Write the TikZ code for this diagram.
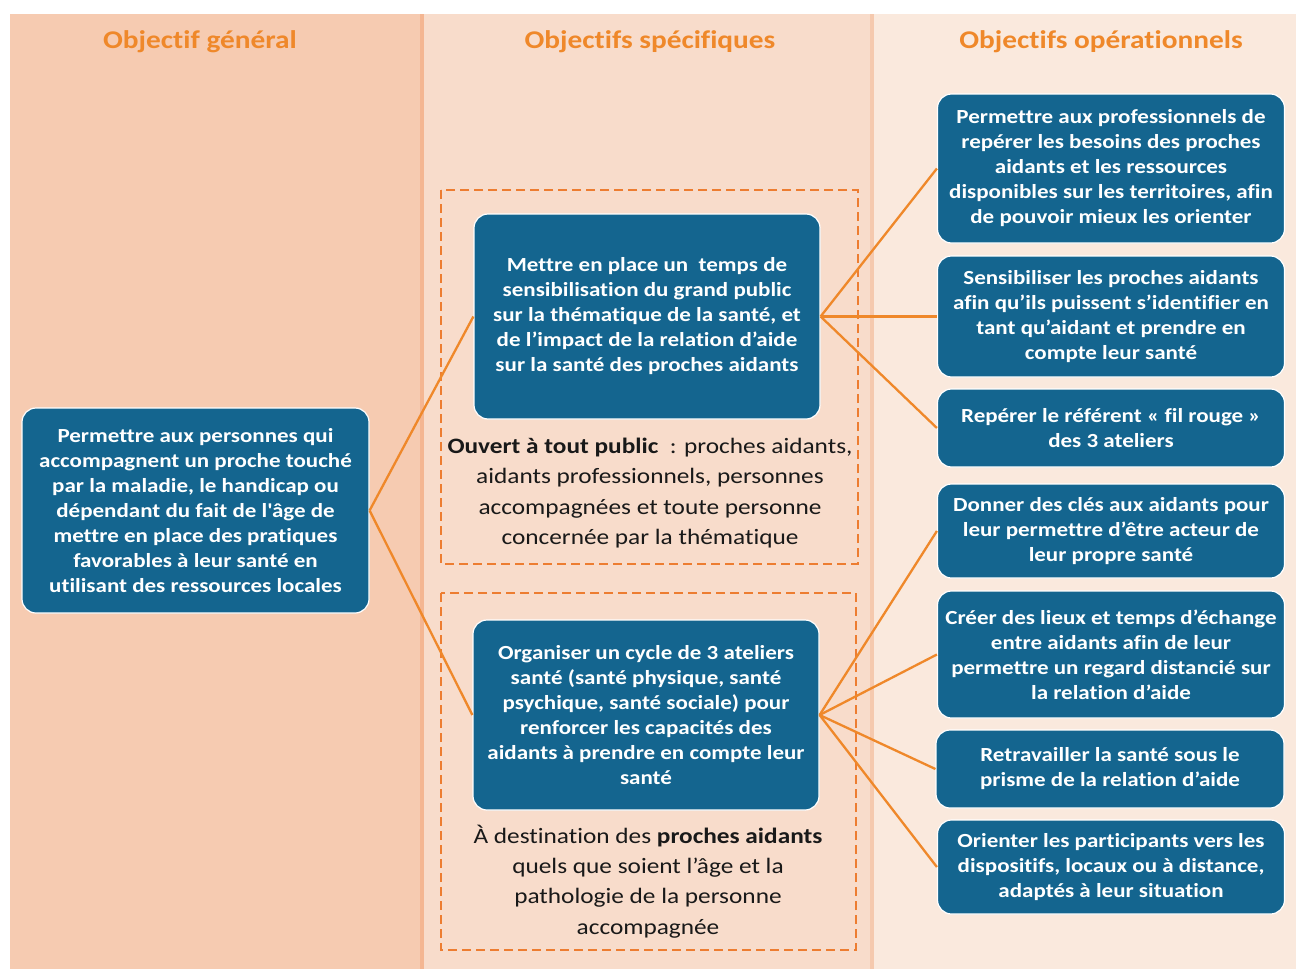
\documentclass[tikz,border=0pt]{standalone}
\usepackage{fontspec}
\setmainfont{Carlito}[FakeStretch=1.15, Ligatures={TeX,NoCommon}]
\usetikzlibrary{positioning}

\definecolor{ColA}{HTML}{F6CBB1}
\definecolor{ColB}{HTML}{F8DCCB}
\definecolor{ColC}{HTML}{FAE9DD}
\definecolor{SepA}{HTML}{F4B692}
\definecolor{SepB}{HTML}{F5C9AE}
\definecolor{BoxBlue}{HTML}{14658F}
\definecolor{Orange}{HTML}{EF882A}
\definecolor{DashOr}{HTML}{ED7D31}

\begin{document}
\begin{tikzpicture}[x=1pt, y=-1pt]
		\tikzstyle{Obj} 	= [rectangle, rounded corners=14pt, draw=white, line width=1.2pt, fill=BoxBlue, text=white, align=center, font=\fontsize{20}{25}\selectfont\bfseries, inner sep=2pt, minimum width=347pt]
		\tikzstyle{Title}	= [text=Orange, font=\fontsize{25.5}{30}\selectfont\bfseries]
		\tikzstyle{Public}	= [align=center, text=black!90, font=\fontsize{22}{30.3}\selectfont]
		\tikzstyle{Group}	= [dashed, dash pattern=on 9pt off 5pt, DashOr, line width=1.5pt]
		\tikzstyle{Link}	= [Orange, line width=2.3pt]

		\useasboundingbox (0,0) rectangle (1296,969);
		% columns
		\fill [ColA] (10,14) rectangle (422,969);
		\fill [ColB] (422,14) rectangle (872,969);
		\fill [ColC] (872,14) rectangle (1296,969);
		\fill [SepA] (420,14) rectangle (424,969);
		\fill [SepB] (870,14) rectangle (874,969);

		\node (t1) at (200, 42) [Title] {Objectif général};
		\node (t2) at (650, 42) [Title] {Objectifs spécifiques};
		\node (t3) at (1101, 42) [Title] {Objectifs opérationnels};

		\draw [Group] (441,190) rectangle (858,564);
		\draw [Group] (441,593) rectangle (856,950);

		\node (g) at (195.5, 510.5) [Obj, minimum height=205pt] {Permettre aux personnes qui\\ accompagnent un proche touché\\ par la maladie, le handicap ou\\ dépendant du fait de l\textquotesingle âge de\\ mettre en place des pratiques\\ favorables à leur santé en\\ utilisant des ressources locales};

		\node (s1) at (647, 316.5) [Obj, minimum width=346pt, minimum height=205pt] {Mettre en place un \ temps de\\ sensibilisation du grand public\\ sur la thématique de la santé, et\\ de l’impact de la relation d’aide\\ sur la santé des proches aidants};
		\node (s2) at (646, 715) [Obj, minimum width=346pt, minimum height=190pt] {Organiser un cycle de 3 ateliers\\ santé (santé physique, santé\\ psychique, santé sociale) pour\\ renforcer les capacités des\\ aidants à prendre en compte leur\\ santé};

		\node (p1) at (650, 493) [Public] {\textbf{Ouvert à tout public} \ : proches aidants,\\ aidants professionnels, personnes\\ accompagnées et toute personne\\ concernée par la thématique};
		\node (p2) at (648, 881.5) [Public] {À destination des \textbf{proches aidants}\\ quels que soient l’âge et la\\ pathologie de la personne\\ accompagnée};

		\node (o1) at (1111, 168.5) [Obj, minimum height=149pt] {Permettre aux professionnels de\\ repérer les besoins des proches\\ aidants et les ressources\\ disponibles sur les territoires, afin\\ de pouvoir mieux les orienter};
		\node (o2) at (1111, 316.5) [Obj, minimum height=121pt] {Sensibiliser les proches aidants\\ afin qu’ils puissent s’identifier en\\ tant qu’aidant et prendre en\\ compte leur santé};
		\node (o3) at (1111, 428) [Obj, minimum height=78pt] {Repérer le référent « fil rouge »\\ des 3 ateliers};
		\node (o4) at (1111, 531) [Obj, minimum height=94pt] {Donner des clés aux aidants pour\\ leur permettre d’être acteur de\\ leur propre santé};
		\node (o5) at (1111, 654.5) [Obj, minimum height=127pt] {Créer des lieux et temps d’échange\\ entre aidants afin de leur\\ permettre un regard distancié sur\\ la relation d’aide};
		\node (o6) at (1110, 769) [Obj, minimum width=348pt, minimum height=78pt] {Retravailler la santé sous le\\ prisme de la relation d’aide};
		\node (o7) at (1111, 867) [Obj, minimum height=94pt] {Orienter les participants vers les\\ dispositifs, locaux ou à distance,\\ adaptés à leur situation};

		\draw [-] (g.east) to (s1.west) [Link];
		\draw [-] (g.east) to (s2.west) [Link];
		\draw [-] (s1.east) to (o1.west) [Link];
		\draw [-] (s1.east) to (o2.west) [Link];
		\draw [-] (s1.east) to (o3.west) [Link];
		\draw [-] (s2.east) to (o4.west) [Link];
		\draw [-] (s2.east) to (o5.west) [Link];
		\draw [-] (s2.east) to (o6.west) [Link];
		\draw [-] (s2.east) to (o7.west) [Link];
	\end{tikzpicture}
\end{document}
